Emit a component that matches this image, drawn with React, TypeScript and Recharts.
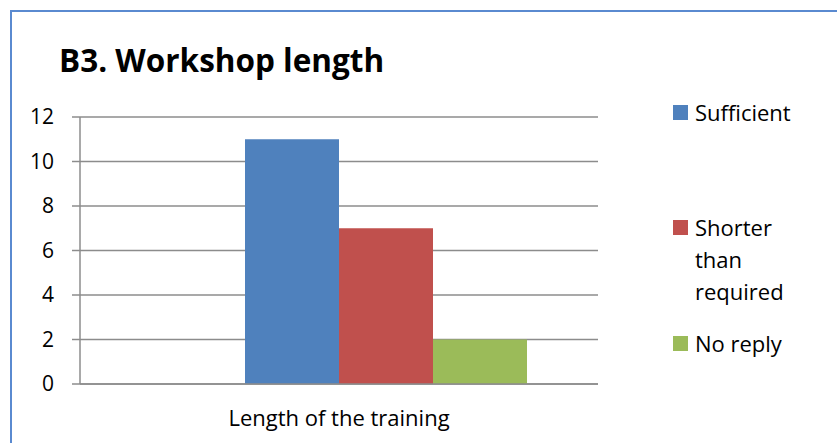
import { BarChart, Bar, XAxis, YAxis, CartesianGrid } from "recharts";

const categories = ["Length of the training"];
const sufficient = [11];
const shorterThanRequired = [7];
const noReply = [2];
const yTicks = [0, 2, 4, 6, 8, 10, 12];

const seriesKeys = ["sufficient", "shorter", "noReply"];
const seriesNames = ["Sufficient", "Shorter than required", "No reply"];
const seriesColors = ["#4f81bd", "#c0504d", "#9bbb59"];

// Excel kept an empty slot before the three bars, so the bars sit right of centre
const data = categories.map((name, i) => ({
  name,
  blank: 0,
  sufficient: sufficient[i],
  shorter: shorterThanRequired[i],
  noReply: noReply[i],
}));

const FONT = "'Open Sans', 'Liberation Sans', sans-serif";
const GRID = "#8c8c8c";

const legendGaps = [0, 83, 20];

const LegendBox = () => (
  <div
    style={{
      position: "absolute",
      left: 673,
      top: 96,
      fontFamily: FONT,
      fontSize: 22,
      lineHeight: "32px",
      color: "#000",
    }}
  >
    {seriesNames.map((n, i) => (
      <div key={n} style={{ display: "flex", marginTop: legendGaps[i] }}>
        <div
          style={{
            width: 15,
            height: 15,
            background: seriesColors[i],
            marginTop: 9,
            marginRight: 7,
            flex: "none",
          }}
        />
        <div style={{ width: 112 }}>{n}</div>
      </div>
    ))}
  </div>
);

export default function App() {
  return (
    <div
      style={{
        position: "fixed",
        left: 0,
        top: 0,
        width: 837,
        height: 443,
        overflow: "hidden",
        background: "#fff",
      }}
    >
      <div
        style={{
          position: "absolute",
          left: 10,
          top: 10,
          width: 900,
          height: 600,
          border: "2px solid #5a8ad0",
        }}
      />
      <div
        style={{
          position: "absolute",
          left: 59,
          top: 38,
          fontFamily: FONT,
          fontWeight: 700,
          fontSize: 31.5,
          color: "#000",
          whiteSpace: "nowrap",
        }}
      >
        B3. Workshop length
      </div>
      <div style={{ position: "absolute", left: 0, top: 0 }}>
        <BarChart
          width={837}
          height={443}
          data={data}
          margin={{ top: 117, right: 239, left: 0, bottom: 0 }}
          barCategoryGap={71}
          barGap={0}
        >
          <CartesianGrid vertical={false} stroke={GRID} strokeWidth={1.5} />
          <XAxis
            xAxisId="edge"
            type="number"
            domain={[0, 1]}
            ticks={[0, 1]}
            tickFormatter={() => ""}
            axisLine={false}
            tickLine={{ stroke: GRID, strokeWidth: 1.5 }}
            tickSize={8}
            height={0}
          />
          <XAxis
            dataKey="name"
            tickLine={false}
            axisLine={{ stroke: GRID, strokeWidth: 1.5 }}
            height={59}
            tickMargin={20}
            tick={{ fill: "#000", fontSize: 22, fontFamily: FONT }}
          />
          <YAxis
            domain={[0, 12]}
            ticks={yTicks}
            width={80}
            tickSize={8}
            tickMargin={18}
            axisLine={{ stroke: GRID, strokeWidth: 1.5 }}
            tickLine={{ stroke: GRID, strokeWidth: 1.5 }}
            tick={{ fill: "#000", fontSize: 21, fontFamily: FONT }}
          />
          <Bar dataKey="blank" fill="none" isAnimationActive={false} />
          {seriesKeys.map((k, i) => (
            <Bar
              key={k}
              dataKey={k}
              name={seriesNames[i]}
              fill={seriesColors[i]}
              isAnimationActive={false}
            />
          ))}
        </BarChart>
      </div>
      <LegendBox />
    </div>
  );
}
